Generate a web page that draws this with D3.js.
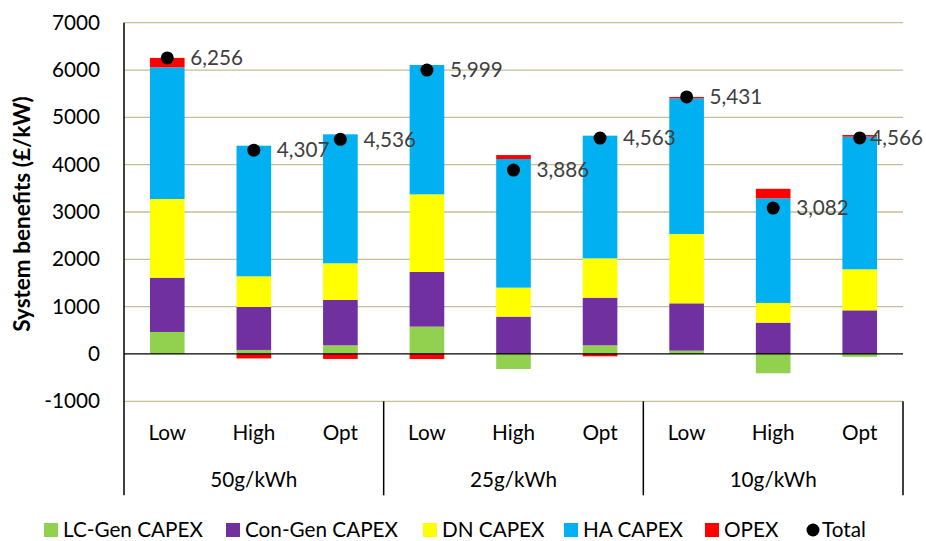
<!DOCTYPE html>
<html>
<head>
<meta charset="utf-8">
<script src="https://cdn.jsdelivr.net/npm/d3@7"></script>
<style>
  body { margin: 0; background: #fff; }
  text { font-family: Lato, "Open Sans", sans-serif; }
</style>
</head>
<body>
<div id="wrapper"></div>
<script>
// chart data
const groups = ['50g/kWh', '25g/kWh', '10g/kWh'];
const cases = ['Low', 'High', 'Opt'];
const seriesNames = ['LC-Gen CAPEX', 'Con-Gen CAPEX', 'DN CAPEX', 'HA CAPEX', 'OPEX'];
const seriesColors = ['#92d050', '#7030a0', '#ffff00', '#00b0f0', '#ff0000'];
const lcGen   = [465, 85, 183, 578, -317, 183, 70, -408, -60];
const conGen  = [1147, 908, 958, 1155, 789, 1007, 1000, 662, 922];
const dnCapex = [1663, 648, 775, 1640, 613, 831, 1465, 416, 867];
const haCapex = [2782, 2760, 2725, 2733, 2718, 2592, 2866, 2211, 2803];
const opex    = [199, -94, -105, -107, 83, -50, 30, 201, 35];
const totals  = [6256, 4307, 4536, 5999, 3886, 4563, 5431, 3082, 4566];
const yTicks = [-1000, 0, 1000, 2000, 3000, 4000, 5000, 6000, 7000];

function drawChart() {
  const fontSize = '20.7px';
  const dimensions = {
    width: 926,
    height: 541,
    margin: { top: 22.7, right: 23, bottom: 139.7, left: 124 },
  };
  dimensions.boundedWidth = dimensions.width - dimensions.margin.left - dimensions.margin.right;
  dimensions.boundedHeight = dimensions.height - dimensions.margin.top - dimensions.margin.bottom;

  const svg = d3.select('#wrapper').append('svg')
    .attr('width', dimensions.width)
    .attr('height', dimensions.height);

  const bounds = svg.append('g')
    .attr('transform', `translate(${dimensions.margin.left},${dimensions.margin.top})`);

  // one row per bar, built from the arrays above
  const rows = [];
  groups.forEach((g, gi) => cases.forEach((c, ci) => {
    const i = gi * cases.length + ci;
    rows.push({
      key: g + '|' + c, group: g, kase: c,
      'LC-Gen CAPEX': lcGen[i], 'Con-Gen CAPEX': conGen[i], 'DN CAPEX': dnCapex[i],
      'HA CAPEX': haCapex[i], 'OPEX': opex[i], total: totals[i],
    });
  }));

  const xScale = d3.scaleBand()
    .domain(rows.map(d => d.key))
    .range([0, dimensions.boundedWidth])
    .paddingInner(0.6)
    .paddingOuter(0.3);

  const yScale = d3.scaleLinear()
    .domain([-1000, 7000])
    .range([dimensions.boundedHeight, 0]);

  // gridlines
  bounds.append('g')
    .selectAll('line')
    .data(yTicks.filter(t => t !== 0))
    .join('line')
    .attr('x1', 0).attr('x2', dimensions.boundedWidth)
    .attr('y1', d => yScale(d)).attr('y2', d => yScale(d))
    .attr('stroke', '#c4bd97').attr('stroke-width', 1.3);

  // y axis tick labels (plain hyphen for negatives, like the original)
  const yAxis = bounds.append('g')
    .call(d3.axisLeft(yScale).tickValues(yTicks).tickSize(0).tickPadding(24).tickFormat(d => String(d)));
  yAxis.select('.domain').remove();
  yAxis.selectAll('text')
    .style('font-family', 'Lato, "Open Sans", sans-serif')
    .style('font-size', fontSize).attr('fill', '#000');

  // stacked bars
  const stack = d3.stack().keys(seriesNames).offset(d3.stackOffsetDiverging);
  const stacked = stack(rows);
  bounds.append('g')
    .selectAll('g')
    .data(stacked)
    .join('g')
    .attr('fill', (d, i) => seriesColors[i])
    .selectAll('rect')
    .data(d => d)
    .join('rect')
    .attr('x', d => xScale(d.data.key))
    .attr('width', xScale.bandwidth())
    .attr('y', d => yScale(Math.max(d[0], d[1])))
    .attr('height', d => Math.abs(yScale(d[0]) - yScale(d[1])));

  // zero line and y axis line
  bounds.append('line')
    .attr('x1', 0).attr('x2', dimensions.boundedWidth)
    .attr('y1', yScale(0)).attr('y2', yScale(0))
    .attr('stroke', '#000').attr('stroke-width', 1.3);
  bounds.append('line')
    .attr('x1', 0).attr('x2', 0)
    .attr('y1', 0).attr('y2', dimensions.boundedHeight + 94)
    .attr('stroke', '#000').attr('stroke-width', 1.5);

  // total markers and labels
  const cx = d => xScale(d.key) + xScale.bandwidth() / 2;
  bounds.append('g')
    .selectAll('circle')
    .data(rows)
    .join('circle')
    .attr('cx', cx)
    .attr('cy', d => yScale(d.total))
    .attr('r', 6.5)
    .attr('fill', '#000');
  const labels = bounds.append('g')
    .selectAll('text')
    .data(rows)
    .join('text')
    .attr('x', d => cx(d) + 23)
    .attr('y', d => yScale(d.total))
    .attr('dy', '0.35em')
    .attr('fill', '#404040')
    .style('font-size', fontSize)
    .text(d => d3.format(',')(d.total));
  // keep labels inside the chart, as the spreadsheet does
  labels.each(function (d) {
    const w = this.getComputedTextLength();
    const maxX = dimensions.boundedWidth + dimensions.margin.right - 3 - w;
    if (cx(d) + 23 > maxX) d3.select(this).attr('x', maxX);
  });

  // two-level category axis
  const catAxis = bounds.append('g')
    .attr('transform', `translate(0,${dimensions.boundedHeight})`);
  catAxis.selectAll('text.case')
    .data(rows)
    .join('text')
    .attr('class', 'case')
    .attr('x', cx)
    .attr('y', 39)
    .attr('text-anchor', 'middle')
    .style('font-size', fontSize)
    .text(d => d.kase);
  const groupWidth = dimensions.boundedWidth / groups.length;
  const groupScale = d3.scaleBand().domain(groups).range([0, dimensions.boundedWidth]);
  catAxis.selectAll('text.group')
    .data(groups)
    .join('text')
    .attr('class', 'group')
    .attr('x', d => groupScale(d) + groupScale.bandwidth() / 2)
    .attr('y', 86)
    .attr('text-anchor', 'middle')
    .style('font-size', fontSize)
    .text(d => d);
  catAxis.selectAll('line.sep')
    .data(groups.slice(1).concat(['end']))
    .join('line')
    .attr('class', 'sep')
    .attr('x1', (d, i) => (i + 1) * groupWidth)
    .attr('x2', (d, i) => (i + 1) * groupWidth)
    .attr('y1', 0).attr('y2', 94)
    .attr('stroke', '#000').attr('stroke-width', 1.5);

  // y axis title
  svg.append('text')
    .attr('transform', `translate(30,214) rotate(-90)`)
    .attr('text-anchor', 'middle')
    .style('font-size', '22.5px')
    .style('font-weight', 'bold')
    .text('System benefits (£/kW)');

  // legend
  const legendItems = seriesNames.map((n, i) => ({ name: n, color: seriesColors[i], x: [44, 226, 423, 564, 705][i] }));
  const legend = svg.append('g').attr('transform', 'translate(0,530)');
  legend.selectAll('rect')
    .data(legendItems)
    .join('rect')
    .attr('x', d => d.x).attr('y', -7)
    .attr('width', 14).attr('height', 14)
    .attr('fill', d => d.color);
  legend.selectAll('text.item')
    .data(legendItems)
    .join('text')
    .attr('class', 'item')
    .attr('x', d => d.x + 19)
    .attr('y', 0)
    .attr('dy', '0.35em')
    .style('font-size', fontSize)
    .text(d => d.name);
  legend.append('circle')
    .attr('cx', 813).attr('cy', 0).attr('r', 6.5).attr('fill', '#000');
  legend.append('text')
    .attr('x', 822).attr('y', 0).attr('dy', '0.35em')
    .style('font-size', fontSize)
    .text('Total');
}

drawChart();
</script>
</body>
</html>
